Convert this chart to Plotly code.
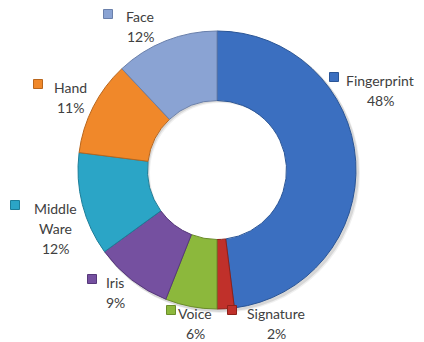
import plotly.graph_objects as go

# Biometric technology market share
categories = ["Fingerprint", "Signature", "Voice", "Iris", "Middle Ware", "Hand", "Face"]
shares = [48, 2, 6, 9, 12, 11, 12]
colors = ["#3b6fc0", "#c0302a", "#8cb83c", "#7550a0", "#2ba5c6", "#f0882a", "#8aa3d3"]
edge_colors = ["#2a5596", "#8e2018", "#6a8c2a", "#56387a", "#1d7e99", "#b9661c", "#6a80ab"]

W, H = 424, 342
CX, CY, R = 217, 170, 139


def domain(cx, cy, r):
    return dict(x=[(cx - r) / W, (cx + r) / W], y=[1 - (cy + r) / H, 1 - (cy - r) / H])


fig = go.Figure()

# soft drop shadow under the ring
for off, alpha in [(3, 0.06), (2, 0.10)]:
    fig.add_trace(go.Pie(
        values=[sum(shares)], labels=["shadow"], sort=False, hole=0.5,
        marker=dict(colors=[f"rgba(0,0,0,{alpha})"], line=dict(width=0)),
        textinfo="none", hoverinfo="skip", showlegend=False,
        domain=domain(CX + off, CY + off, R + 1),
    ))

fig.add_trace(go.Pie(
    labels=categories,
    values=shares,
    sort=False,
    direction="clockwise",
    rotation=0,
    hole=0.5,
    marker=dict(colors=colors, line=dict(color=edge_colors, width=1)),
    textinfo="none",
    hoverinfo="label+percent",
    showlegend=False,
    domain=domain(CX, CY, R),
))

# label layout: (name lines, text center x, first line y, marker x) in pixels
label_layout = {
    "Fingerprint": (["Fingerprint"], 380, 80, 334),
    "Signature": (["Signature"], 276, 313, 232),
    "Voice": (["Voice"], 195, 313, 171),
    "Iris": (["Iris"], 115, 282, 92),
    "Middle Ware": (["Middle", "Ware"], 55, 208, 15),
    "Hand": (["Hand"], 70, 87, 38),
    "Face": (["Face"], 140, 17, 108),
}
LINE = 20
font = dict(family="Lato, Carlito, sans-serif", size=14, color="#404040")


def px(x):
    return x / W


def py(y):
    return 1 - y / H


total = sum(shares)
shapes = []
for name, val, col, ecol in zip(categories, shares, colors, edge_colors):
    lines, cx, y0, mx = label_layout[name]
    lines = lines + [f"{round(val / total * 100)}%"]
    for i, t in enumerate(lines):
        fig.add_annotation(x=px(cx), y=py(y0 + i * LINE), xref="paper", yref="paper",
                           text=t, showarrow=False, font=font, borderpad=0,
                           xanchor="center", yanchor="middle")
    s = 4.5
    shapes.append(dict(type="rect", xref="paper", yref="paper",
                       x0=px(mx - s), x1=px(mx + s), y0=py(y0 - 3 + s), y1=py(y0 - 3 - s),
                       fillcolor=col, line=dict(color=ecol, width=1)))

fig.update_layout(
    width=W, height=H,
    margin=dict(l=0, r=0, t=0, b=0),
    paper_bgcolor="white",
    plot_bgcolor="white",
    shapes=shapes,
)

fig.write_html("out.html")
